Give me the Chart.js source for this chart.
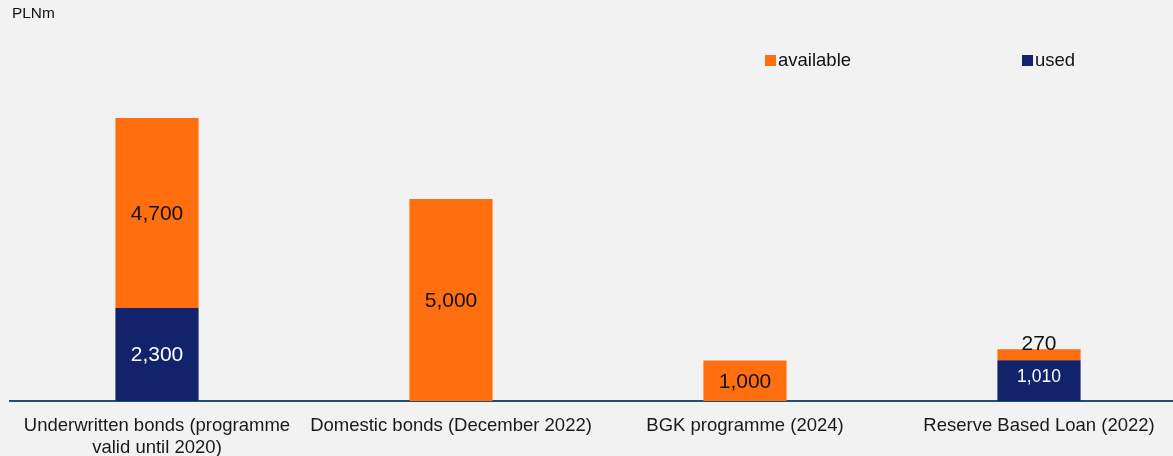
<!DOCTYPE html>
<html>
<head>
<meta charset="utf-8">
<script src="https://cdn.jsdelivr.net/npm/chart.js@4/dist/chart.umd.min.js"></script>
<style>
html,body{margin:0;padding:0;background:#F2F2F2;overflow:hidden;}
#outer{width:1173px;height:456px;position:relative;overflow:hidden;}
#wrap{width:1186px;height:456px;position:absolute;left:0;top:0;}
</style>
</head>
<body>
<div id="outer"><div id="wrap"><canvas id="c"></canvas></div></div>
<script>
const categories = [
  ['Underwritten bonds (programme', 'valid until 2020)'],
  'Domestic bonds (December 2022)',
  'BGK programme (2024)',
  'Reserve Based Loan (2022)'
];
const usedValues = [2300, 0, 0, 1010];
const availableValues = [4700, 5000, 1000, 270];
const seriesNames = ['used', 'available'];
const unitLabel = 'PLNm';

const ORANGE = '#FF6E0F';
const NAVY = '#12236B';
const FONT = "'Liberation Sans', Arial, sans-serif";

const fmt = v => v.toLocaleString('en-US');

const valueLabels = {
  id: 'valueLabels',
  afterDatasetsDraw(chart) {
    const ctx = chart.ctx;
    ctx.save();
    ctx.textAlign = 'center';
    chart.data.datasets.forEach((ds, di) => {
      const meta = chart.getDatasetMeta(di);
      meta.data.forEach((el, i) => {
        const v = ds.data[i];
        if (!v) return;
        const top = Math.min(el.y, el.base), bot = Math.max(el.y, el.base);
        const h = bot - top;
        const isUsed = ds.label === 'used';
        if (h < 20) {
          ctx.font = '21px ' + FONT;
          ctx.fillStyle = '#111';
          ctx.textBaseline = 'alphabetic';
          ctx.fillText(fmt(v), el.x, top + 1);
        } else {
          const small = isUsed && h < 60;
          ctx.font = (small ? '17.5px ' : '21px ') + FONT;
          ctx.fillStyle = isUsed ? '#FFFFFF' : '#111';
          ctx.textBaseline = 'middle';
          ctx.fillText(fmt(v), el.x, (top + bot) / 2 + (small ? -3 : 1));
        }
      });
    });
    ctx.restore();
  }
};

const extras = {
  id: 'extras',
  afterDraw(chart) {
    const ctx = chart.ctx;
    ctx.save();
    ctx.fillStyle = '#111';
    ctx.textBaseline = 'alphabetic';
    ctx.textAlign = 'left';
    ctx.font = '15.4px ' + FONT;
    ctx.fillText(unitLabel, 12, 18);
    const items = [
      {label: 'available', color: ORANGE, x: 765},
      {label: 'used', color: NAVY, x: 1022}
    ];
    ctx.font = '18.5px ' + FONT;
    items.forEach(it => {
      ctx.fillStyle = it.color;
      ctx.fillRect(it.x, 55, 11, 11);
      ctx.fillStyle = '#111';
      ctx.fillText(it.label, it.x + 13, 66);
    });
    ctx.restore();
  }
};

new Chart(document.getElementById('c'), {
  type: 'bar',
  data: {
    labels: categories,
    datasets: [
      {label: seriesNames[0], data: usedValues, backgroundColor: NAVY, barPercentage: 0.283, categoryPercentage: 1},
      {label: seriesNames[1], data: availableValues, backgroundColor: ORANGE, barPercentage: 0.283, categoryPercentage: 1}
    ]
  },
  options: {
    responsive: true,
    maintainAspectRatio: false,
    animation: false,
    layout: {padding: {left: 10, right: 0, top: 0, bottom: 0}},
    plugins: {legend: {display: false}, tooltip: {enabled: false}, title: {display: false}},
    scales: {
      x: {
        stacked: true,
        grid: {display: false, drawTicks: false},
        border: {display: true, color: '#1F4E79', width: 2},
        ticks: {color: '#1a1a1a', font: {family: FONT, size: 18.5, lineHeight: 1.2}, padding: 14, autoSkip: false, maxRotation: 0, minRotation: 0},
        afterFit(scale) { scale.height = 55; }
      },
      y: {
        stacked: true,
        display: false,
        min: 0,
        max: 9920
      }
    }
  },
  plugins: [valueLabels, extras]
});
</script>
</body>
</html>
